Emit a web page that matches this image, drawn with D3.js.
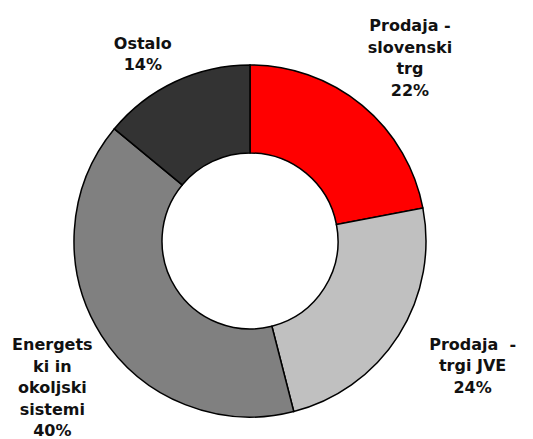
<!DOCTYPE html>
<html>
<head>
<meta charset="utf-8">
<script src="https://cdn.jsdelivr.net/npm/d3@7"></script>
<style>
  body { margin: 0; background: #fff; }
  text { font-family: "DejaVu Sans", Verdana, sans-serif; font-weight: bold; font-size: 16px; fill: #111; }
</style>
</head>
<body>
<div id="chart"></div>
<script>
// Data
const categories = ["Prodaja - slovenski trg", "Prodaja - trgi JVE", "Energetski in okoljski sistemi", "Ostalo"];
const shares = [22, 24, 40, 14];
const labelLines = [
    ["Prodaja -", "slovenski", "trg", "22%"],
    ["Prodaja  -", "trgi JVE", "24%"],
    ["Energets", "ki in", "okoljski", "sistemi", "40%"],
    ["Ostalo", "14%"]
];
const colors = ["#ff0000", "#c0c0c0", "#808080", "#333333"];

// Layout
const width = 533, height = 439;
const cx = 250, cy = 241;
const outerR = 176, innerR = 88;
const labelR = 240;
const lineH = 21.5;
// small nudges so the labels sit where they do in the original
const labelNudge = [[7, 2], [20, -4], [5, 18], [-5, 30]];

const svg = d3.select("#chart")
    .append("svg")
    .attr("width", width)
    .attr("height", height);

const g = svg.append("g")
    .attr("transform", `translate(${cx},${cy})`);

const pie = d3.pie().sort(null).value(d => d);
const arcs = pie(shares);

const arc = d3.arc().innerRadius(innerR).outerRadius(outerR);
const labelArc = d3.arc().innerRadius(labelR).outerRadius(labelR);

g.selectAll("path.slice")
    .data(arcs)
    .join("path")
    .attr("class", "slice")
    .attr("d", arc)
    .attr("fill", (d, i) => colors[i])
    .attr("stroke", "#000")
    .attr("stroke-width", 1.5);

// Labels
arcs.forEach((d, i) => {
    const [x, y] = labelArc.centroid(d);
    const lines = labelLines[i];
    const px = x + labelNudge[i][0];
    const py = y + labelNudge[i][1] - (lines.length - 1) * lineH / 2;
    const t = g.append("text")
        .attr("text-anchor", "middle")
        .attr("x", px)
        .attr("y", py);
    lines.forEach((line, j) => {
        t.append("tspan")
            .attr("x", px)
            .attr("y", py + j * lineH)
            .attr("dy", "0.35em")
            .attr("xml:space", "preserve")
            .text(line);
    });
});
</script>
</body>
</html>
